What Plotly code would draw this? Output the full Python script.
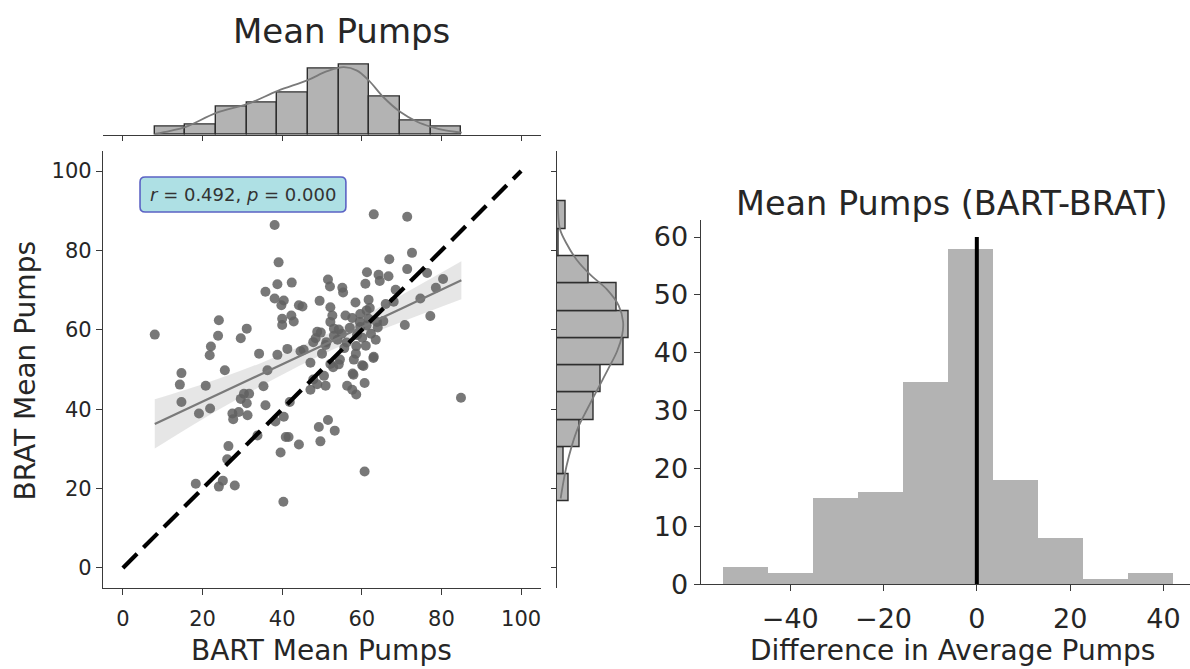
import plotly.graph_objects as go

# ---------------- data ----------------
bart = [8.0, 14.7, 14.3, 14.7, 19.1, 20.8, 21.9, 22.1, 21.8, 23.9, 24.1, 25.6, 29.6, 31.1, 27.5, 27.7,
        29.1, 31.3, 29.6, 30.4, 31.7, 31.1, 34.2, 36.3, 35.3, 35.8, 26.5, 26.2, 18.3, 24.1, 25.1, 28.1,
        35.8, 33.8,
        38.1, 39.1, 38.8, 42.4, 38.1, 40.4, 39.8, 44.2, 45.1, 40.0, 42.3, 42.9, 40.0, 38.8, 41.3, 44.6,
        45.4, 40.4, 38.3, 40.9, 41.6, 39.6, 44.2, 40.3, 41.9,
        63.0, 71.4, 66.9, 72.6, 71.4, 76.4, 80.4, 78.6, 74.7, 77.2, 70.8, 61.3, 64.2, 64.5, 66.7, 60.9,
        68.5, 84.9, 60.7,
        51.5, 52.0, 55.1, 55.3, 49.4, 52.1, 58.4, 61.7, 61.2, 68.0, 52.6, 55.9, 57.6, 59.6, 61.7, 63.8,
        52.1, 48.8, 53.0, 48.4, 59.6, 58.8, 50.9, 65.4, 64.0, 62.3, 60.1, 54.2, 55.0, 53.9, 55.6, 58.6,
        47.8, 49.7, 51.1,
        63.0, 60.1, 60.7, 57.7, 56.3, 57.6, 58.6, 58.0, 54.2, 52.1, 47.1, 50.5, 50.9, 47.1, 48.8, 47.8,
        51.5, 49.2, 53.2, 49.6,
        52.8, 54.5, 56.2, 57.0, 53.0, 50.0, 59.5, 62.0, 66.0, 58.5, 61.0, 63.5, 60.4, 62.9, 57.9, 61.2]
brat = [58.8, 49.1, 46.2, 41.8, 38.9, 45.9, 40.2, 55.8, 53.6, 58.5, 62.4, 49.8, 57.9, 60.3, 38.9, 37.5,
        39.3, 38.5, 42.6, 43.9, 43.9, 41.5, 54.0, 49.8, 45.8, 41.0, 30.7, 27.4, 21.2, 20.5, 22.0, 20.8,
        69.6, 33.4,
        86.4, 77.0, 71.5, 71.9, 67.9, 67.4, 66.2, 66.2, 65.9, 62.8, 63.6, 62.1, 61.2, 53.7, 55.2, 54.6,
        55.0, 38.1, 36.9, 33.0, 33.0, 29.1, 31.1, 16.7, 41.8,
        89.1, 88.5, 77.8, 79.4, 75.3, 74.3, 72.8, 70.6, 67.9, 63.5, 61.2, 74.5, 73.9, 72.3, 73.5, 71.6,
        70.1, 42.9, 24.3,
        72.7, 70.9, 70.6, 69.4, 67.3, 65.7, 66.9, 67.6, 64.9, 67.1, 63.6, 63.6, 63.0, 64.0, 62.8, 62.0,
        62.0, 59.5, 60.3, 57.9, 60.7, 58.7, 56.2, 62.2, 60.6, 59.0, 58.0, 60.1, 59.0, 57.5, 55.4, 55.9,
        56.9, 59.3, 56.9,
        53.2, 51.1, 46.6, 49.0, 45.9, 44.9, 43.7, 52.5, 51.3, 51.4, 51.7, 48.4, 45.9, 44.9, 46.3, 47.5,
        37.3, 35.5, 34.6, 31.9,
        50.6, 52.5, 56.8, 60.5, 58.5, 54.0, 62.0, 65.5, 66.5, 54.0, 56.0, 57.5, 50.9, 52.9, 48.7, 61.1]

# regression line and its confidence band
reg_x = [8, 20, 35, 50, 60, 70, 85]
reg_y = [36.3, 41.9, 48.9, 56.0, 60.7, 65.4, 72.5]
reg_lo = [30.1, 37.5, 46.0, 53.7, 58.1, 62.0, 67.7]
reg_hi = [42.5, 46.3, 51.8, 58.3, 63.3, 68.8, 77.3]

identity = [0, 100]

# top marginal (BART)
bart_edges = [8.0, 15.7, 23.4, 31.1, 38.8, 46.5, 54.2, 61.9, 69.6, 77.3, 85.0]
bart_counts = [4, 5, 14, 16, 21, 33, 35, 19, 7, 4]
bart_kde_x = [8.0, 11.9, 15.8, 23.6, 31.3, 38.9, 46.4, 51.3, 55.5, 58.8, 61.9, 65.5, 69.7, 73.9, 77.4, 81.0, 85.1]
bart_kde_c = [0.5, 2.0, 4.0, 11.0, 15.3, 21.8, 27.1, 31.5, 33.5, 31.8, 26.6, 18.5, 11.3, 6.5, 4.0, 2.2, 1.1]

# right marginal (BRAT)
brat_edges = [16.7, 23.6, 30.4, 37.3, 44.2, 51.1, 57.9, 64.8, 71.7, 78.6, 85.4, 92.3]
brat_counts = [5, 3, 10, 16, 19, 29, 31, 26, 14, 1, 4]
brat_kde_y = [92.3, 85.4, 81.7, 77.6, 73.9, 70.2, 66.1, 62.0, 58.7, 54.6, 50.4, 45.5, 39.8, 35.6, 30.7, 25.8, 21.7, 17.5]
brat_kde_c = [0.5, 1.4, 4.3, 8.7, 14.5, 21.7, 26.8, 28.7, 28.3, 26.1, 22.5, 18.1, 13.0, 9.4, 6.5, 4.3, 2.9, 1.7]

# difference histogram
diff_edges = [-54.4, -44.8, -35.1, -25.5, -15.9, -6.2, 3.4, 13.0, 22.6, 32.3, 41.9]
diff_counts = [3, 2, 15, 16, 35, 58, 18, 8, 1, 2]
diff_ticks = [-40, -20, 0, 20, 40]
diff_ticktext = ["\u221240", "\u221220", "0", "20", "40"]
zero_line_x = [0, 0]
zero_line_y = [0, 60]

main_ticks = [0, 20, 40, 60, 80, 100]

# ---------------- figure ----------------
FONT = "DejaVu Sans"
TXT = "#262626"
W, H = 1190, 669


def centers(e):
    return [(e[i] + e[i + 1]) / 2 for i in range(len(e) - 1)]


def widths(e):
    return [e[i + 1] - e[i] for i in range(len(e) - 1)]


fig = go.Figure()

# CI band
fig.add_trace(go.Scatter(x=reg_x, y=reg_hi, mode="lines", line=dict(width=0, shape="spline"),
                         hoverinfo="skip", showlegend=False, xaxis="x", yaxis="y"))
fig.add_trace(go.Scatter(x=reg_x, y=reg_lo, mode="lines", line=dict(width=0, shape="spline"),
                         fill="tonexty", fillcolor="rgba(200,200,200,0.45)",
                         hoverinfo="skip", showlegend=False, xaxis="x", yaxis="y"))
# scatter
fig.add_trace(go.Scatter(x=bart, y=brat, mode="markers",
                         marker=dict(size=10, color="#606060", opacity=0.85, line=dict(width=0)),
                         showlegend=False, xaxis="x", yaxis="y"))
# regression line
fig.add_trace(go.Scatter(x=reg_x, y=reg_y, mode="lines", line=dict(color="#7a7a7a", width=2.2),
                         showlegend=False, xaxis="x", yaxis="y"))
# identity line
fig.add_trace(go.Scatter(x=identity, y=identity, mode="lines",
                         line=dict(color="black", width=4.2, dash="20px,9px"),
                         showlegend=False, xaxis="x", yaxis="y"))

# top marginal
fig.add_trace(go.Bar(x=centers(bart_edges), y=bart_counts, width=widths(bart_edges),
                     marker=dict(color="#b3b3b3", line=dict(color="#2e2e2e", width=1.4)),
                     showlegend=False, xaxis="x2", yaxis="y2"))
fig.add_trace(go.Scatter(x=bart_kde_x, y=bart_kde_c, mode="lines",
                         line=dict(color="#7a7a7a", width=1.8, shape="spline"),
                         showlegend=False, xaxis="x2", yaxis="y2"))

# right marginal
fig.add_trace(go.Bar(y=centers(brat_edges), x=brat_counts, width=widths(brat_edges), orientation="h",
                     marker=dict(color="#b3b3b3", line=dict(color="#2e2e2e", width=1.4)),
                     showlegend=False, xaxis="x3", yaxis="y3"))
fig.add_trace(go.Scatter(x=brat_kde_c, y=brat_kde_y, mode="lines",
                         line=dict(color="#7a7a7a", width=1.8, shape="spline"),
                         showlegend=False, xaxis="x3", yaxis="y3"))

# difference histogram
fig.add_trace(go.Bar(x=centers(diff_edges), y=diff_counts, width=widths(diff_edges),
                     marker=dict(color="#b3b3b3", line=dict(width=0)),
                     showlegend=False, xaxis="x4", yaxis="y4"))
fig.add_trace(go.Scatter(x=zero_line_x, y=zero_line_y, mode="lines",
                         line=dict(color="black", width=4),
                         showlegend=False, xaxis="x4", yaxis="y4"))

axis_common = dict(showgrid=False, zeroline=False, showline=True, linecolor="#3a3a3a", linewidth=1.3,
                   ticks="outside", ticklen=6, tickwidth=1.2, tickcolor="#3a3a3a")

x_dom = [103 / W, 541 / W]
y_dom = [(H - 601.3) / H, (H - 154.7) / H]

fig.update_layout(
    width=W, height=H, margin=dict(l=0, r=0, t=0, b=0),
    paper_bgcolor="white", plot_bgcolor="white",
    font=dict(family=FONT, color=TXT),
    barmode="overlay", bargap=0,
    xaxis=dict(domain=x_dom, range=[-5, 105], tickvals=main_ticks, anchor="y", ticklabelstandoff=6,
               tickfont=dict(size=21, color=TXT), **axis_common),
    yaxis=dict(domain=y_dom, range=[-5, 105], tickvals=main_ticks, anchor="x",
               tickfont=dict(size=21, color=TXT), **axis_common),
    xaxis2=dict(domain=x_dom, range=[-5, 105], tickvals=main_ticks, showticklabels=False, anchor="y2",
                **{**axis_common, "ticklen": 5}),
    yaxis2=dict(domain=[(H - 138) / H, (H - 62) / H], range=[0, 36.75], visible=False, anchor="x2"),
    xaxis3=dict(domain=[556.7 / W, 632 / W], range=[0, 32.55], visible=False, anchor="y3"),
    yaxis3=dict(domain=y_dom, range=[-5, 105], tickvals=main_ticks, showticklabels=False, anchor="x3",
                **{**axis_common, "ticklen": 5}),
    xaxis4=dict(domain=[700.7 / W, 1.0], range=[-59.2, 45.7], tickvals=diff_ticks, ticktext=diff_ticktext,
                anchor="y4", ticklabelstandoff=4, tickfont=dict(size=27, color=TXT), **axis_common),
    yaxis4=dict(domain=[(H - 597.7) / H, (H - 224.7) / H], range=[0, 63],
                tickvals=[0, 10, 20, 30, 40, 50, 60], anchor="x4",
                tickfont=dict(size=27, color=TXT), **axis_common),
)

# rounded annotation box (data coordinates of the scatter)
bx0, bx1, by0, by1 = 4.3, 56.0, 89.7, 98.5
rx, ry = 1.3, 1.25
path = (f"M {bx0+rx},{by0} L {bx1-rx},{by0} Q {bx1},{by0} {bx1},{by0+ry} "
        f"L {bx1},{by1-ry} Q {bx1},{by1} {bx1-rx},{by1} L {bx0+rx},{by1} "
        f"Q {bx0},{by1} {bx0},{by1-ry} L {bx0},{by0+ry} Q {bx0},{by0} {bx0+rx},{by0} Z")
fig.add_shape(type="path", path=path, xref="x", yref="y", fillcolor="#aee0e4",
              line=dict(color="#5b62c4", width=1.6), layer="above")

anns = [
    dict(text="<i>r</i> = 0.492, <i>p</i> = 0.000", x=(bx0 + bx1) / 2, y=(by0 + by1) / 2,
         xref="x", yref="y", showarrow=False, font=dict(size=18, color="#333333"),
         xanchor="center", yanchor="middle"),
    dict(text="Mean Pumps", x=341 / W, y=(H - 32) / H, xref="paper", yref="paper", showarrow=False,
         font=dict(size=34, color=TXT), xanchor="center", yanchor="middle"),
    dict(text="Mean Pumps (BART-BRAT)", x=952 / W, y=(H - 208) / H, xref="paper", yref="paper",
         showarrow=False, font=dict(size=33.5, color=TXT), xanchor="center", yanchor="middle"),
    dict(text="BART Mean Pumps", x=321 / W, y=(H - 665) / H, xref="paper", yref="paper", showarrow=False,
         font=dict(size=28, color=TXT), xanchor="center", yanchor="middle"),
    dict(text="Difference in Average Pumps", x=952 / W, y=(H - 665) / H, xref="paper", yref="paper",
         showarrow=False, font=dict(size=28, color=TXT), xanchor="center", yanchor="middle"),
    dict(text="BRAT Mean Pumps", x=25 / W, y=(H - 380) / H, xref="paper", yref="paper", showarrow=False,
         textangle=-90, font=dict(size=28, color=TXT), xanchor="center", yanchor="middle"),
]
for a in anns:
    fig.add_annotation(**a)

fig.write_html("out.html")
